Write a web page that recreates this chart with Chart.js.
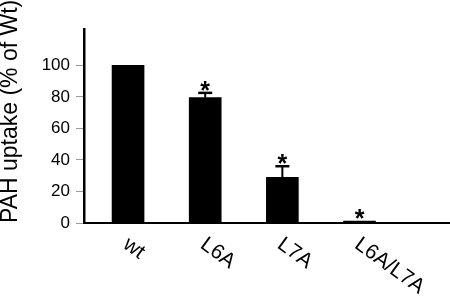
<!DOCTYPE html>
<html>
<head>
<meta charset="utf-8">
<script src="https://cdn.jsdelivr.net/npm/chart.js@4"></script>
<style>
  html, body { margin: 0; padding: 0; background: #fff; }
  #wrap { width: 450px; height: 299px; }
</style>
</head>
<body>
<div id="wrap"><canvas id="chartUptake"></canvas></div>
<script>
// data
const categories = ['wt', 'L6A', 'L7A', 'L6A/L7A']
const uptake = [100, 79.5, 29, 1.2]
const errors = [0, 3, 7, 0]
const significant = [false, true, true, true]
const yTicks = [0, 20, 40, 60, 80, 100]

const fontFamily = "'Liberation Sans', Arial, sans-serif"

// error bars, asterisks and slanted category labels
const decor = {
    id: 'decor',
    afterDatasetsDraw(chart) {
        const ctx = chart.ctx
        const x = chart.scales.x
        const y = chart.scales.y
        ctx.save()
        ctx.fillStyle = '#000'
        ctx.strokeStyle = '#000'
        categories.forEach((cat, i) => {
            const px = x.getPixelForValue(i)
            const top = y.getPixelForValue(uptake[i] + errors[i])
            if (errors[i] > 0) {
                const base = y.getPixelForValue(uptake[i])
                ctx.lineWidth = 2
                ctx.beginPath()
                ctx.moveTo(px, base)
                ctx.lineTo(px, top)
                ctx.stroke()
                ctx.lineWidth = 2.5
                ctx.beginPath()
                ctx.moveTo(px - 7, top)
                ctx.lineTo(px + 7, top)
                ctx.stroke()
            }
            if (significant[i]) {
                ctx.font = 'bold 25px ' + fontFamily
                ctx.textAlign = 'center'
                ctx.textBaseline = 'alphabetic'
                ctx.fillText('*', px, top + 6)
            }
        })
        // category labels, tilted down to the right
        const ang = 36 * Math.PI / 180
        ctx.font = '21px ' + fontFamily
        ctx.textAlign = 'left'
        ctx.textBaseline = 'alphabetic'
        categories.forEach((cat, i) => {
            const px = x.getPixelForValue(i)
            ctx.save()
            ctx.translate(px - 6, 247)
            ctx.rotate(ang)
            ctx.fillText(cat, 0, 0)
            ctx.restore()
        })
        ctx.restore()
    }
}

new Chart(document.getElementById('chartUptake'), {
    type: 'bar',
    data: {
        datasets: [{
            label: 'PAH uptake',
            data: uptake.map((v, i) => ({ x: i, y: v })),
            backgroundColor: '#000',
            borderWidth: 0,
            barThickness: 32
        }]
    },
    options: {
        responsive: true,
        maintainAspectRatio: false,
        animation: false,
        layout: { padding: { top: 29, right: 1, left: 0, bottom: 0 } },
        plugins: {
            legend: { display: false },
            tooltip: { enabled: false }
        },
        scales: {
            x: {
                type: 'linear',
                offset: false,
                min: -0.571,
                max: 4.16,
                grid: { display: false },
                border: { display: true, color: '#000', width: 2 },
                ticks: { display: false },
                afterFit(scale) { scale.height = 76 }
            },
            y: {
                min: 0,
                max: 123,
                afterBuildTicks(scale) {
                    scale.ticks = yTicks.map(v => ({ value: v }))
                },
                grid: {
                    display: true,
                    drawOnChartArea: false,
                    drawTicks: true,
                    tickLength: 8,
                    color: '#999',
                    lineWidth: 1
                },
                border: { display: true, color: '#000', width: 2.5 },
                ticks: {
                    color: '#000',
                    padding: 6,
                    font: { family: fontFamily, size: 17 }
                },
                title: {
                    display: true,
                    text: 'PAH uptake (% of Wt)',
                    align: 'start',
                    color: '#000',
                    padding: 0,
                    font: { family: fontFamily, size: 23, lineHeight: 0.9 }
                },
                afterFit(scale) { scale.width = 84 }
            }
        }
    },
    plugins: [decor]
})
</script>
</body>
</html>
